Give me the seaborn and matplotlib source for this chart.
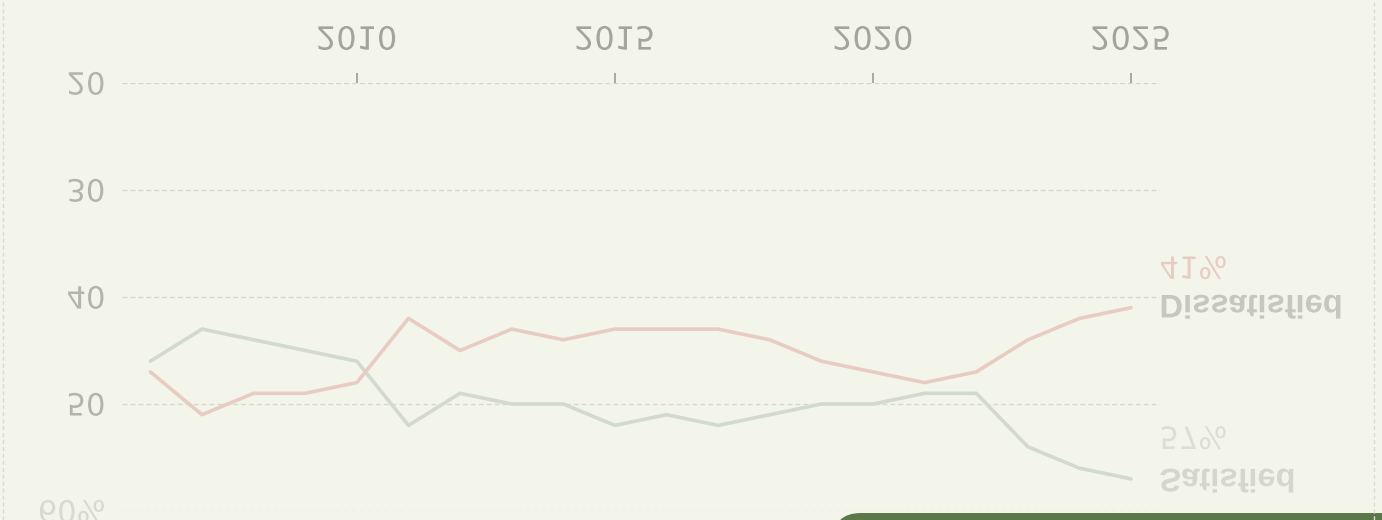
import matplotlib
matplotlib.use("Agg")
import matplotlib.pyplot as plt
import numpy as np
import pandas as pd
import seaborn as sns
from matplotlib.lines import Line2D
from matplotlib.patches import FancyBboxPatch
from matplotlib.patheffects import AbstractPathEffect
from matplotlib.transforms import Affine2D

years = list(range(2006, 2026))
satisfied = [46, 43, 44, 45, 46, 52, 49, 50, 50, 52, 51, 52, 51, 50, 50, 49, 49, 54, 56, 57]
dissatisfied = [47, 51, 49, 49, 48, 42, 45, 43, 44, 43, 43, 43, 44, 46, 47, 48, 47, 44, 42, 41]
year_ticks = [2010, 2015, 2020, 2025]
pct_ticks = [20, 30, 40, 50, 60]
pct_labels = ["20", "30", "40", "50", "60%"]

BG = "#f3f5ea"
RED = "#e8ccc2"
GREEN = "#d1dacb"
TICK_GRAY = "#a3a59b"


class FlipV(AbstractPathEffect):
    """Mirror a text path top-to-bottom around its own middle."""

    def draw_path(self, renderer, gc, tpath, affine, rgbFace=None):
        ext = tpath.get_extents()
        mid = (ext.y0 + ext.y1) / 2
        flip = Affine2D().translate(0, -mid).scale(1, -1).translate(0, mid)
        renderer.draw_path(gc, tpath, flip + affine, rgbFace)


df = pd.DataFrame(
    {
        "year": years * 2,
        "pct": satisfied + dissatisfied,
        "group": ["Satisfied"] * len(years) + ["Dissatisfied"] * len(years),
    }
)

sns.set_style("white")
plt.rcParams["font.family"] = ["DejaVu Sans"]

fig = plt.figure(figsize=(13.82, 5.2), dpi=100, facecolor=BG)
ax = fig.add_axes([122 / 1382, 9 / 520, 1038 / 1382, 428 / 520])
ax.set_facecolor(BG)

sns.lineplot(
    data=df, x="year", y="pct", hue="group",
    palette={"Satisfied": GREEN, "Dissatisfied": RED},
    linewidth=2.6, legend=False, ax=ax,
)

ax.set_xlim(2005.45, 2025.56)
ax.set_ylim(60, 20)
ax.set_xlabel("")
ax.set_ylabel("")
for s in ax.spines.values():
    s.set_visible(False)

ax.xaxis.tick_top()
ax.set_xticks(year_ticks)
ax.set_xticklabels([str(y) for y in year_ticks])
ax.tick_params(axis="x", top=True, bottom=False, length=7, width=1.3,
               color=TICK_GRAY, labelcolor=TICK_GRAY, labelsize=23, pad=12)
ax.set_yticks(pct_ticks)
ax.set_yticklabels(pct_labels)
ax.tick_params(axis="y", left=False, length=0, labelcolor="#b3b5ab", labelsize=22, pad=12)
ax.yaxis.grid(True, linestyle=(0, (3.5, 2.2)), color="#d6d8cd", linewidth=1)
ax.xaxis.grid(False)

ax.get_yticklabels()[-1].set_color("#d8dacf")

end_labels = [
    ("41%", 37.5, RED, "normal"),
    ("Dissatisfied", 41.2, "#c6c8be", "bold"),
    ("57%", 53.4, "#dcded3", "normal"),
    ("Satisfied", 57.45, "#d5d7cc", "bold"),
]
texts = []
for txt, yv, col, wt in end_labels:
    if wt == "bold":
        t = ax.text(2025.55, yv, txt, color=col, fontsize=23.5, fontweight="bold",
                    family=["Liberation Sans", "DejaVu Sans"],
                    ha="left", va="center", clip_on=False)
    else:
        t = ax.text(2025.55, yv, txt, color=col, fontsize=22,
                    ha="left", va="center", clip_on=False)
    texts.append(t)

for t in texts + ax.get_xticklabels() + ax.get_yticklabels():
    t.set_path_effects([FlipV()])

# dashed frame edges
fig.add_artist(Line2D([3 / 1382] * 2, [0, 1], transform=fig.transFigure,
                      color="#dadbd2", linestyle=(0, (3, 2)), linewidth=1))
fig.add_artist(Line2D([1374 / 1382] * 2, [0, 1], transform=fig.transFigure,
                      color="#dadbd2", linestyle=(0, (3, 2)), linewidth=1))

# green panel peeking in at the bottom
fig.add_artist(FancyBboxPatch((8.33, -1.0), 6.0, 1.07,
                              boxstyle="round,pad=0,rounding_size=0.28",
                              transform=fig.dpi_scale_trans,
                              facecolor="#5a784a", edgecolor="none", clip_on=False))

fig.savefig("out.png", dpi=100, facecolor=BG)
